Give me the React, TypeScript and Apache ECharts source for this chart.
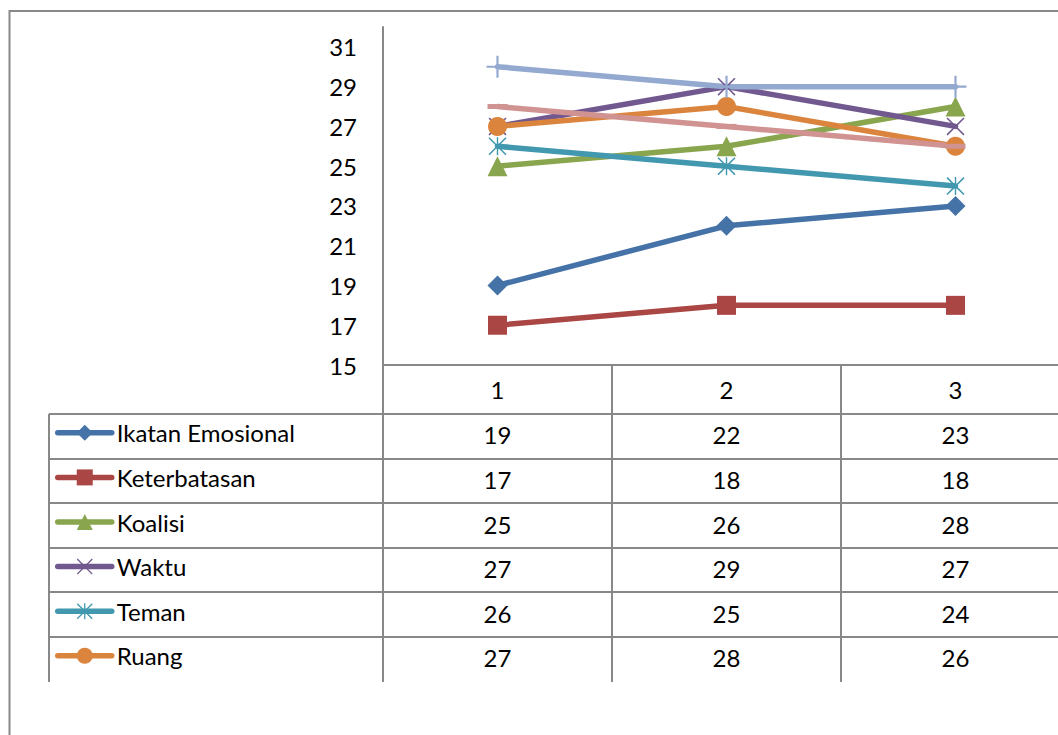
import React, { useEffect, useRef } from 'react';
import * as echarts from 'echarts';

// Categories along the x axis and the tick labels shown on the y axis
const categories = ['1', '2', '3'];
const yTickLabels = [15, 17, 19, 21, 23, 25, 27, 29, 31];

// Series values
const ikatanEmosional = [19, 22, 23];
const keterbatasan = [17, 18, 18];
const koalisi = [25, 26, 28];
const waktu = [27, 29, 27];
const teman = [26, 25, 24];
const ruang = [27, 28, 26];
const seri7 = [30, 29, 29];
const seri8 = [28, 27, 26];

const seriesNames = [
  'Ikatan Emosional',
  'Keterbatasan',
  'Koalisi',
  'Waktu',
  'Teman',
  'Ruang',
  'Seri 7',
  'Seri 8',
];
const seriesValues = [ikatanEmosional, keterbatasan, koalisi, waktu, teman, ruang, seri7, seri8];

// Rows that fit inside the data table
const tableRowCount = 6;

const COLORS = ['#4572A7', '#AA4643', '#89A54E', '#71588F', '#4198AF', '#DB843D', '#93A9CF', '#D19392'];

const X_MARK = 'path://M0,1.2L1.2,0L10,8.8L18.8,0L20,1.2L11.2,10L20,18.8L18.8,20L10,11.2L1.2,20L0,18.8L8.8,10Z';
const STAR_MARK = X_MARK + 'M9.2,0L10.8,0L10.8,20L9.2,20Z';
const PLUS_MARK = 'path://M9,0L11,0L11,9L20,9L20,11L11,11L11,20L9,20L9,11L0,11L0,9L9,9Z';

const SYMBOLS: any[] = ['diamond', 'rect', 'triangle', X_MARK, STAR_MARK, 'circle', PLUS_MARK, 'rect'];
const SYMBOL_SIZES: any[] = [20, 19, 20, 18, 18, 19, 22, [20, 5]];

const FONT = 'Lato, "Open Sans", sans-serif';
const FONT_SIZE = 24;
const GRID_COLOR = '#888888';

// Layout of the plot and table
const GRID_LEFT = 383;
const GRID_TOP = 27;
const GRID_WIDTH = 687;
const GRID_HEIGHT = 338;
const TABLE_LEFT = 49;
const TABLE_TOP = 414;
const ROW_HEIGHT = 44.6;
const TABLE_BOTTOM = 682;
const LEGEND_ITEM_H = 20;

export default function App() {
  const ref = useRef<HTMLDivElement>(null);

  useEffect(() => {
    if (!ref.current) return;
    const chart = echarts.init(ref.current, undefined, { renderer: 'svg' });

    const colWidth = GRID_WIDTH / categories.length;
    const graphic: any[] = [];

    // outer frame
    graphic.push({
      type: 'rect',
      shape: { x: 9.5, y: 11, width: 1200, height: 900 },
      style: { fill: 'none', stroke: GRID_COLOR, lineWidth: 2 },
      silent: true,
    });

    // horizontal rules of the data table
    for (let r = 0; r < tableRowCount; r++) {
      const y = Math.round(TABLE_TOP + r * ROW_HEIGHT);
      graphic.push({
        type: 'line',
        shape: { x1: TABLE_LEFT, y1: y, x2: 1200, y2: y },
        style: { stroke: GRID_COLOR, lineWidth: 2 },
        silent: true,
      });
    }
    // left edge of the data table
    graphic.push({
      type: 'line',
      shape: { x1: TABLE_LEFT, y1: TABLE_TOP, x2: TABLE_LEFT, y2: TABLE_BOTTOM },
      style: { stroke: GRID_COLOR, lineWidth: 2 },
      silent: true,
    });

    // values in the data table
    for (let r = 0; r < tableRowCount; r++) {
      const y = TABLE_TOP + (r + 0.5) * ROW_HEIGHT - 1.5;
      seriesValues[r].forEach((v, c) => {
        graphic.push({
          type: 'text',
          x: GRID_LEFT + (c + 0.5) * colWidth,
          y,
          style: {
            text: String(v),
            fontSize: FONT_SIZE,
            fontFamily: FONT,
            fill: '#000',
            align: 'center',
            verticalAlign: 'middle',
          },
          silent: true,
        });
      });
    }

    const series = seriesNames.map((name, i) => ({
      name,
      type: 'line',
      data: seriesValues[i],
      symbol: SYMBOLS[i],
      symbolSize: SYMBOL_SIZES[i],
      showAllSymbol: true,
      color: COLORS[i],
      lineStyle: { width: 5.5, color: COLORS[i], cap: 'round', join: 'round' },
      itemStyle: { color: COLORS[i] },
      emphasis: { disabled: true },
      z: 3,
    }));

    chart.setOption({
      animation: false,
      grid: {
        left: GRID_LEFT,
        top: GRID_TOP,
        width: GRID_WIDTH,
        height: GRID_HEIGHT,
        containLabel: false,
        outerBoundsMode: 'none',
      },
      legend: {
        data: seriesNames.slice(0, tableRowCount),
        orient: 'vertical',
        left: 55,
        top: TABLE_TOP + ROW_HEIGHT / 2 - LEGEND_ITEM_H / 2 - 5.5,
        padding: 0,
        itemWidth: 54,
        itemHeight: LEGEND_ITEM_H,
        itemGap: ROW_HEIGHT - FONT_SIZE,
        selectedMode: false,
        lineStyle: { width: 5.5 },
        textStyle: {
          fontSize: FONT_SIZE,
          fontFamily: FONT,
          color: '#000',
          lineHeight: LEGEND_ITEM_H,
          padding: [0, 0, 0, 0],
        },
      },
      xAxis: {
        type: 'category',
        data: categories,
        boundaryGap: true,
        axisLine: { show: true, lineStyle: { color: GRID_COLOR, width: 2 } },
        axisTick: {
          show: true,
          interval: 0,
          alignWithLabel: false,
          length: TABLE_BOTTOM - (GRID_TOP + GRID_HEIGHT),
          lineStyle: { color: GRID_COLOR, width: 2 },
        },
        axisLabel: {
          fontSize: FONT_SIZE,
          fontFamily: FONT,
          color: '#000',
          margin: 24,
          verticalAlign: 'middle',
          interval: 0,
        },
        splitLine: { show: false },
      },
      yAxis: {
        type: 'value',
        min: 15,
        max: 32,
        interval: 1,
        axisLine: { show: true, lineStyle: { color: GRID_COLOR, width: 2 } },
        axisTick: { show: false },
        splitLine: { show: false },
        axisLabel: {
          fontSize: FONT_SIZE,
          fontFamily: FONT,
          color: '#000',
          margin: 26,
          formatter: (v: number) => (yTickLabels.includes(v) ? String(v) : ''),
        },
      },
      graphic,
      series,
    });

    return () => chart.dispose();
  }, []);

  return (
    <div
      ref={ref}
      style={{ position: 'fixed', left: 0, top: 0, width: 1058, height: 735, background: '#fff', overflow: 'hidden' }}
    />
  );
}
